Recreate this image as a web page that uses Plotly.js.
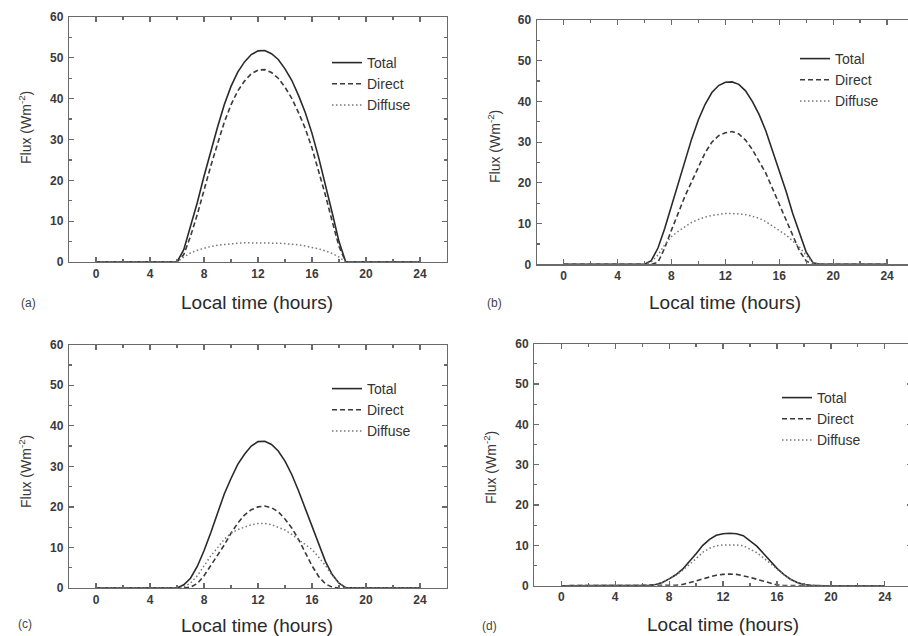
<!DOCTYPE html>
<html>
<head>
<meta charset="utf-8">
<script src="https://cdn.plot.ly/plotly-3.0.1.min.js"></script>
<style>
html, body { margin: 0; padding: 0; overflow: hidden; background: #fff; }
#chart { width: 916px; height: 636px; }
</style>
</head>
<body>
<div id="chart"></div>
<script>
// Local time (hours)
var hours = [0,0.5,1,1.5,2,2.5,3,3.5,4,4.5,5,5.5,6,6.5,7,7.5,8,8.5,9,9.5,10,10.5,11,11.5,12,12.5,13,13.5,14,14.5,15,15.5,16,16.5,17,17.5,18,18.5,19,19.5,20,20.5,21,21.5,22,22.5,23,23.5,24];

// Panel (a)
var totalA   = [0,0,0,0,0,0,0,0,0,0,0,0, 0,3,8.5,14.5,21,27.3,33,38.5,43,46.5,49,50.8,51.7,51.8,51,49.6,47.3,44.5,40.8,36.6,31.5,25.5,19,12,5,0,0, 0,0,0,0,0,0,0,0,0,0];
var directA  = [0,0,0,0,0,0,0,0,0,0,0,0, 0,1.8,6.3,11.6,17.6,23.5,28.9,34.2,38.5,41.9,44.3,46.1,47,47.1,46.4,45,42.8,40.1,36.6,32.7,27.9,22.3,16.3,9.9,3.8,0,0, 0,0,0,0,0,0,0,0,0,0];
var diffuseA = [0,0,0,0,0,0,0,0,0,0,0,0, 0,1.2,2.2,2.9,3.4,3.8,4.1,4.3,4.5,4.6,4.7,4.7,4.7,4.7,4.6,4.6,4.5,4.4,4.2,3.9,3.6,3.2,2.7,2.1,1.2,0,0, 0,0,0,0,0,0,0,0,0,0];

// Panel (b)
var totalB   = [0,0,0,0,0,0,0,0,0,0,0,0, 0,0.9,4,8.8,14.3,19.8,25.5,30.8,35.5,39.3,42.2,43.9,44.7,44.8,44.2,42.6,40,36.8,32.8,28,23,18,12.5,7.5,3,0.4,0, 0,0,0,0,0,0,0,0,0,0];
var directB  = [0,0,0,0,0,0,0,0,0,0,0,0, 0,0,0.5,4,8.4,12.6,16.7,20.3,24,27.4,30,31.6,32.3,32.6,32,30.5,28.2,25.4,22.4,18.6,14.8,10.6,6.9,3.3,0.8,0,0, 0,0,0,0,0,0,0,0,0,0];
var diffuseB = [0,0,0,0,0,0,0,0,0,0,0,0, 0,0.6,2.3,4.8,6.8,8.1,9.3,10.3,11,11.6,12,12.3,12.5,12.5,12.4,12.2,11.8,11.3,10.5,9.5,8.3,7.2,5.7,4.2,2.2,0.4,0, 0,0,0,0,0,0,0,0,0,0];

// Panel (c)
var totalC   = [0,0,0,0,0,0,0,0,0,0,0,0, 0,0.8,2.4,5.3,9.2,13.6,18.6,23.2,27,30.5,33,35,36.1,36.2,35.4,33.8,31.3,28,24,19.5,15,10.5,6.5,3.3,1.2,0.1,0, 0,0,0,0,0,0,0,0,0,0];
var directC  = [0,0,0,0,0,0,0,0,0,0,0,0, 0,0,0.2,1.1,3,5.5,8.2,10.6,13.5,16,18,19.3,20,20.2,19.8,18.8,17,14.8,12,8.8,5.5,2.8,1,0.2,0,0,0, 0,0,0,0,0,0,0,0,0,0];
var diffuseC = [0,0,0,0,0,0,0,0,0,0,0,0, 0,0.3,1.2,3,5.6,7.9,9.9,12,13.5,14.4,15,15.6,15.9,15.9,15.6,15,14.3,13.2,12,10.7,9.5,7.6,5.5,3.1,1.2,0.1,0, 0,0,0,0,0,0,0,0,0,0];

// Panel (d)
var totalD   = [0,0,0,0,0,0,0,0,0,0,0,0, 0,0.1,0.3,0.8,1.7,2.7,4.1,5.9,7.9,10,11.5,12.5,12.9,13,12.9,12.4,11.2,9.8,8,6.1,4.3,2.8,1.6,0.8,0.3,0.1,0, 0,0,0,0,0,0,0,0,0,0];
var directD  = [0,0,0,0,0,0,0,0,0,0,0,0, 0,0,0,0,0,0.1,0.3,0.7,1.2,1.7,2.2,2.6,2.8,2.9,2.8,2.5,2.1,1.6,1.1,0.6,0.2,0.05,0,0,0,0,0, 0,0,0,0,0,0,0,0,0,0];
var diffuseD = [0,0,0,0,0,0,0,0,0,0,0,0, 0,0.1,0.3,0.8,1.7,2.6,3.8,5.2,6.7,8.3,9.3,9.9,10.1,10.1,10.1,9.9,9.1,8.2,6.9,5.5,4.1,2.75,1.6,0.8,0.3,0.1,0, 0,0,0,0,0,0,0,0,0,0];

var seriesNames = ['Total', 'Direct', 'Diffuse'];
var panelLabels = ['(a)', '(b)', '(c)', '(d)'];
var xTickVals = [0, 4, 8, 12, 16, 20, 24];
var xTitle = 'Local time (hours)';
var yTitle = 'Flux (Wm<sup>-2</sup>)';

var panels = [
  [totalA, directA, diffuseA],
  [totalB, directB, diffuseB],
  [totalC, directC, diffuseC],
  [totalD, directD, diffuseD]
];

var W = 916, H = 636;
var FONT = '"Liberation Sans", Arial, sans-serif';
var styles = [
  {color: '#2a2a2a', width: 1.6, dash: 'solid'},
  {color: '#3a3a3a', width: 1.6, dash: '5px,3px'},
  {color: '#777777', width: 1.5, dash: '1.5px,2.5px'}
];

// pixel boxes [left, right, top, bottom]
var boxes = [
  [69, 447, 17, 262],
  [536.7, 914, 20, 264.3],
  [69, 447, 344.7, 588],
  [534.3, 911.8, 343.7, 585.7]
];
var legendPos = [[327, 47], [795, 43], [327, 373], [777, 382]];
var yTitlePos = [[25, 128], [494, 147], [25, 472], [490, 468]];
var xTitlePos = [[257, 303], [725, 303], [257, 625], [723, 624]];
var labelPos = [[28, 303], [494, 303], [25, 624], [489, 626]];

var traces = [];
var layout = {
  width: W, height: H,
  margin: {l: 0, r: 0, t: 0, b: 0},
  paper_bgcolor: '#fff', plot_bgcolor: '#fff',
  font: {family: FONT, color: '#333'},
  showlegend: true,
  annotations: []
};

panels.forEach(function (p, i) {
  var n = i === 0 ? '' : String(i + 1);
  var legName = 'legend' + n;
  p.forEach(function (vals, j) {
    traces.push({
      x: hours, y: vals, type: 'scatter', mode: 'lines',
      name: seriesNames[j],
      xaxis: 'x' + n, yaxis: 'y' + n,
      legend: legName,
      line: {color: styles[j].color, width: styles[j].width, dash: styles[j].dash},
      hoverinfo: 'skip'
    });
  });
  var b = boxes[i];
  var axCommon = {
    showline: true, linecolor: '#6a6a6a', linewidth: 1.2,
    mirror: 'ticks', ticks: 'inside', ticklen: 5, tickwidth: 1.2, tickcolor: '#6a6a6a',
    showgrid: false, zeroline: false, fixedrange: true,
    tickfont: {family: FONT, size: 12, color: '#3a3a3a', weight: 'bold'}
  };
  layout['xaxis' + n] = Object.assign({}, axCommon, {
    domain: [b[0] / W, b[1] / W],
    anchor: 'y' + n,
    range: [-2, 26],
    tickvals: xTickVals,
    minor: {dtick: 2, tick0: 0, ticks: 'inside', ticklen: 3, tickcolor: '#6a6a6a', showgrid: false}
  });
  layout['yaxis' + n] = Object.assign({}, axCommon, {
    domain: [1 - b[3] / H, 1 - b[2] / H],
    anchor: 'x' + n,
    range: [0, 60],
    dtick: 10,
    ticklabelstandoff: 2,
    minor: {dtick: 5, ticks: 'inside', ticklen: 3, tickcolor: '#6a6a6a', showgrid: false}
  });
  layout[legName] = {
    x: legendPos[i][0] / W, y: 1 - legendPos[i][1] / H,
    xanchor: 'left', yanchor: 'top',
    bgcolor: 'rgba(0,0,0,0)', borderwidth: 0,
    font: {family: FONT, size: 14, color: '#333'},
    tracegroupgap: 0, itemclick: false, itemdoubleclick: false
  };
  layout.annotations.push({
    xref: 'paper', yref: 'paper', x: xTitlePos[i][0] / W, y: 1 - xTitlePos[i][1] / H,
    xanchor: 'center', yanchor: 'middle', showarrow: false,
    text: xTitle, font: {family: FONT, size: 19, color: '#2a2a2a'}
  });
  layout.annotations.push({
    xref: 'paper', yref: 'paper', x: yTitlePos[i][0] / W, y: 1 - yTitlePos[i][1] / H,
    xanchor: 'center', yanchor: 'middle', showarrow: false, textangle: -90,
    text: yTitle, font: {family: FONT, size: 14, color: '#3a3a3a'}
  });
  layout.annotations.push({
    xref: 'paper', yref: 'paper', x: labelPos[i][0] / W, y: 1 - labelPos[i][1] / H,
    xanchor: 'center', yanchor: 'middle', showarrow: false,
    text: panelLabels[i], font: {family: FONT, size: 12, color: '#444'}
  });
});

Plotly.newPlot('chart', traces, layout, {displayModeBar: false, staticPlot: true});
</script>
</body>
</html>
